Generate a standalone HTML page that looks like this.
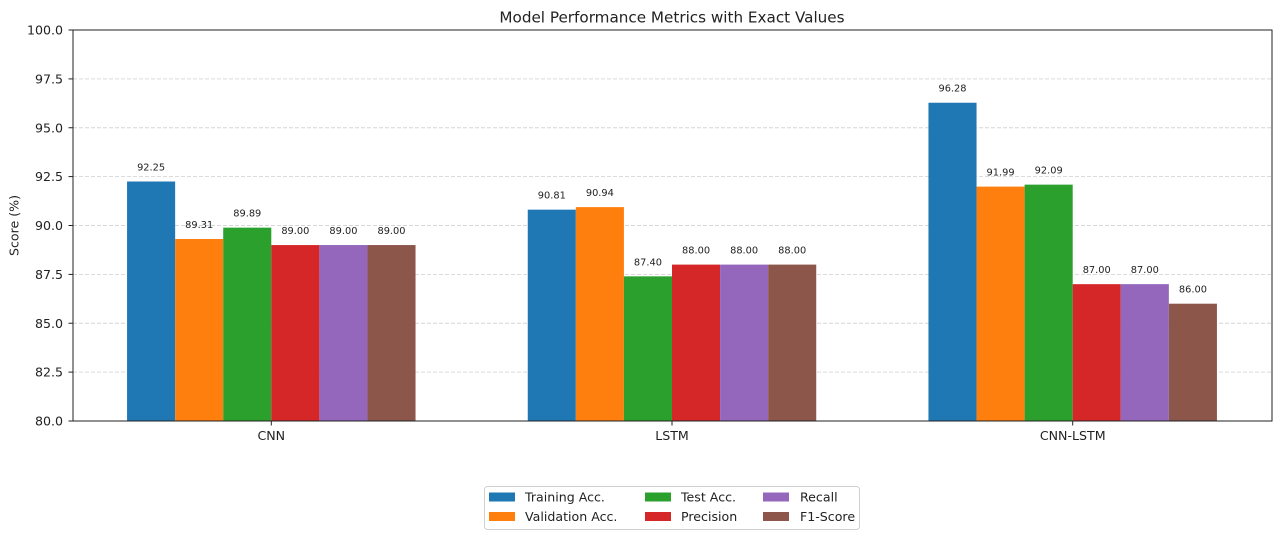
<!DOCTYPE html>
<html><head><meta charset="utf-8"><style>
html,body{margin:0;padding:0;background:#fff;}
svg{display:block;}
text{font-family:"DejaVu Sans","Liberation Sans",sans-serif;fill:#222;}
</style></head><body>
<svg width="1280" height="538" viewBox="0 0 1280 538" xmlns="http://www.w3.org/2000/svg">
<rect width="1280" height="538" fill="#fff"/>
<!-- title -->
<text x="672" y="22.5" font-size="15.2" text-anchor="middle">Model Performance Metrics with Exact Values</text>
<!-- grid -->
<g stroke="#d6d6d6" stroke-width="0.9" stroke-dasharray="4 2">
<line x1="73" x2="1272" y1="372.1" y2="372.1"/>
<line x1="73" x2="1272" y1="323.25" y2="323.25"/>
<line x1="73" x2="1272" y1="274.4" y2="274.4"/>
<line x1="73" x2="1272" y1="225.5" y2="225.5"/>
<line x1="73" x2="1272" y1="176.6" y2="176.6"/>
<line x1="73" x2="1272" y1="127.75" y2="127.75"/>
<line x1="73" x2="1272" y1="78.9" y2="78.9"/>
</g>
<!-- bars -->
<g>
<rect x="127.06" y="181.51" width="48.08" height="239.49" fill="#1f77b4"/>
<rect x="175.14" y="238.99" width="48.08" height="182.01" fill="#ff7f0e"/>
<rect x="223.22" y="227.65" width="48.08" height="193.35" fill="#2ca02c"/>
<rect x="271.3" y="245.05" width="48.08" height="175.95" fill="#d62728"/>
<rect x="319.38" y="245.05" width="48.08" height="175.95" fill="#9467bd"/>
<rect x="367.46" y="245.05" width="48.08" height="175.95" fill="#8c564b"/>

<rect x="527.76" y="209.66" width="48.08" height="211.34" fill="#1f77b4"/>
<rect x="575.84" y="207.12" width="48.08" height="213.88" fill="#ff7f0e"/>
<rect x="623.92" y="276.33" width="48.08" height="144.67" fill="#2ca02c"/>
<rect x="672.0" y="264.6" width="48.08" height="156.4" fill="#d62728"/>
<rect x="720.08" y="264.6" width="48.08" height="156.4" fill="#9467bd"/>
<rect x="768.16" y="264.6" width="48.08" height="156.4" fill="#8c564b"/>

<rect x="928.46" y="102.73" width="48.08" height="318.27" fill="#1f77b4"/>
<rect x="976.54" y="186.6" width="48.08" height="234.4" fill="#ff7f0e"/>
<rect x="1024.62" y="184.64" width="48.08" height="236.36" fill="#2ca02c"/>
<rect x="1072.7" y="284.15" width="48.08" height="136.85" fill="#d62728"/>
<rect x="1120.78" y="284.15" width="48.08" height="136.85" fill="#9467bd"/>
<rect x="1168.86" y="303.7" width="48.08" height="117.3" fill="#8c564b"/>
</g>
<!-- value labels -->
<g font-size="9.8" text-anchor="middle">
<text x="151.1" y="170.5">92.25</text>
<text x="199.18" y="228">89.31</text>
<text x="247.26" y="216.6">89.89</text>
<text x="295.34" y="234">89.00</text>
<text x="343.42" y="234">89.00</text>
<text x="391.5" y="234">89.00</text>

<text x="551.8" y="198.6">90.81</text>
<text x="599.88" y="196.1">90.94</text>
<text x="647.96" y="265.3">87.40</text>
<text x="696.04" y="253.6">88.00</text>
<text x="744.12" y="253.6">88.00</text>
<text x="792.2" y="253.6">88.00</text>

<text x="952.5" y="91.7">96.28</text>
<text x="1000.58" y="175.6">91.99</text>
<text x="1048.66" y="173.6">92.09</text>
<text x="1096.74" y="273.1">87.00</text>
<text x="1144.82" y="273.1">87.00</text>
<text x="1192.9" y="292.7">86.00</text>
</g>
<!-- axes frame -->
<rect x="73" y="30" width="1199" height="391" fill="none" stroke="#222" stroke-width="1"/>
<!-- y ticks -->
<g stroke="#222" stroke-width="1">
<line x1="68.5" x2="73" y1="421" y2="421"/>
<line x1="68.5" x2="73" y1="372.1" y2="372.1"/>
<line x1="68.5" x2="73" y1="323.25" y2="323.25"/>
<line x1="68.5" x2="73" y1="274.4" y2="274.4"/>
<line x1="68.5" x2="73" y1="225.5" y2="225.5"/>
<line x1="68.5" x2="73" y1="176.6" y2="176.6"/>
<line x1="68.5" x2="73" y1="127.75" y2="127.75"/>
<line x1="68.5" x2="73" y1="78.9" y2="78.9"/>
<line x1="68.5" x2="73" y1="30" y2="30"/>
<line x1="271.3" x2="271.3" y1="421" y2="425.5"/>
<line x1="672" x2="672" y1="421" y2="425.5"/>
<line x1="1072.7" x2="1072.7" y1="421" y2="425.5"/>
</g>
<g font-size="12.6" text-anchor="end">
<text x="63" y="425.5">80.0</text>
<text x="63" y="376.6">82.5</text>
<text x="63" y="327.75">85.0</text>
<text x="63" y="278.9">87.5</text>
<text x="63" y="230">90.0</text>
<text x="63" y="181.1">92.5</text>
<text x="63" y="132.25">95.0</text>
<text x="63" y="83.4">97.5</text>
<text x="63" y="34.5">100.0</text>
</g>
<g font-size="12.6" text-anchor="middle">
<text x="271.3" y="440">CNN</text>
<text x="672" y="440">LSTM</text>
<text x="1072.7" y="440">CNN-LSTM</text>
</g>
<text transform="translate(18.5,225.5) rotate(-90)" font-size="12.6" text-anchor="middle">Score (%)</text>
<!-- legend -->
<rect x="484.5" y="486.5" width="375" height="43" rx="3" ry="3" fill="#fff" fill-opacity="0.8" stroke="#d0d0d0" stroke-width="1"/>
<rect x="489" y="492.5" width="26" height="9" fill="#1f77b4"/>
<rect x="489" y="512" width="26" height="9" fill="#ff7f0e"/>
<rect x="645" y="492.5" width="26" height="9" fill="#2ca02c"/>
<rect x="645" y="512" width="26" height="9" fill="#d62728"/>
<rect x="763" y="492.5" width="26" height="9" fill="#9467bd"/>
<rect x="763" y="512" width="26" height="9" fill="#8c564b"/>
<g font-size="12.6">
<text x="525" y="501.5">Training Acc.</text>
<text x="525" y="521">Validation Acc.</text>
<text x="681" y="501.5">Test Acc.</text>
<text x="681" y="521">Precision</text>
<text x="800" y="501.5">Recall</text>
<text x="800" y="521">F1-Score</text>
</g>
</svg>
</body></html>
